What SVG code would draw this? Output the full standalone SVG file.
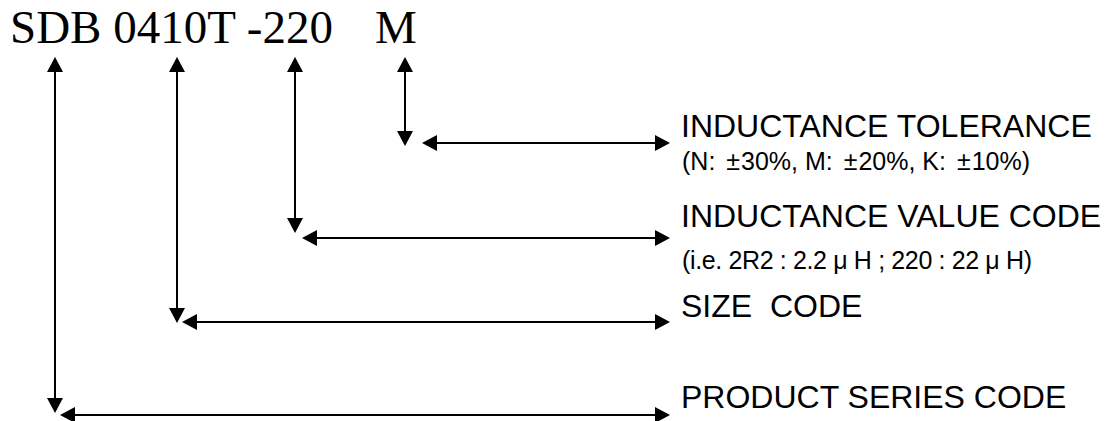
<svg xmlns="http://www.w3.org/2000/svg" width="1111" height="421" viewBox="0 0 1111 421">
  <style>
    .code { font-family: "Liberation Serif", "Times New Roman", serif; font-size: 47px; fill: #000; }
    .title { font-family: "Liberation Sans", Arial, sans-serif; font-size: 32px; fill: #000; }
    .sub { font-family: "Liberation Sans", Arial, sans-serif; font-size: 25px; fill: #000; }
    .conn { stroke: #000; stroke-width: 2; fill: none; marker-start: url(#ah); marker-end: url(#ah); }
  </style>
  <defs>
    <marker id="ah" viewBox="0 0 15 16" markerWidth="15" markerHeight="16" refX="0" refY="8" orient="auto-start-reverse" markerUnits="userSpaceOnUse">
      <path d="M0,0 L15,8 L0,16 z" fill="#000"/>
    </marker>
  </defs>
  <rect width="1111" height="421" fill="#fff"/>

  <g id="part-number">
    <text class="code" x="10" y="43">SDB 0410T -220<tspan x="375">M</tspan></text>
  </g>

  <g id="connectors">
    <line class="conn" x1="55" y1="72" x2="55" y2="398"/>
    <line class="conn" x1="75" y1="415" x2="655" y2="415"/>
    <line class="conn" x1="177" y1="72" x2="177" y2="308"/>
    <line class="conn" x1="197" y1="322" x2="655" y2="322"/>
    <line class="conn" x1="295" y1="72" x2="295" y2="218"/>
    <line class="conn" x1="317" y1="238" x2="655" y2="238"/>
    <line class="conn" x1="405" y1="72" x2="405" y2="131"/>
    <line class="conn" x1="437" y1="143" x2="655" y2="143"/>
  </g>

  <g id="inductance-tolerance">
    <text class="title" x="681" y="137">INDUCTANCE TOLERANCE</text>
    <text class="sub" x="682" y="170">(N: <tspan dx="4">±</tspan><tspan dx="1">30%, M: </tspan><tspan dx="4">±</tspan><tspan dx="1">20%, K: </tspan><tspan dx="4">±</tspan><tspan dx="1">10%)</tspan></text>
  </g>

  <g id="inductance-value-code">
    <text class="title" x="681" y="227">INDUCTANCE VALUE CODE</text>
    <text class="sub" x="682" y="269" textLength="350" lengthAdjust="spacing">(i.e. 2R2 : 2.2 μ H ; 220 : 22 μ H)</text>
  </g>

  <g id="size-code">
    <text class="title" x="681" y="317" xml:space="preserve">SIZE  CODE</text>
  </g>

  <g id="product-series-code">
    <text class="title" x="681" y="408">PRODUCT SERIES CODE</text>
  </g>
</svg>
